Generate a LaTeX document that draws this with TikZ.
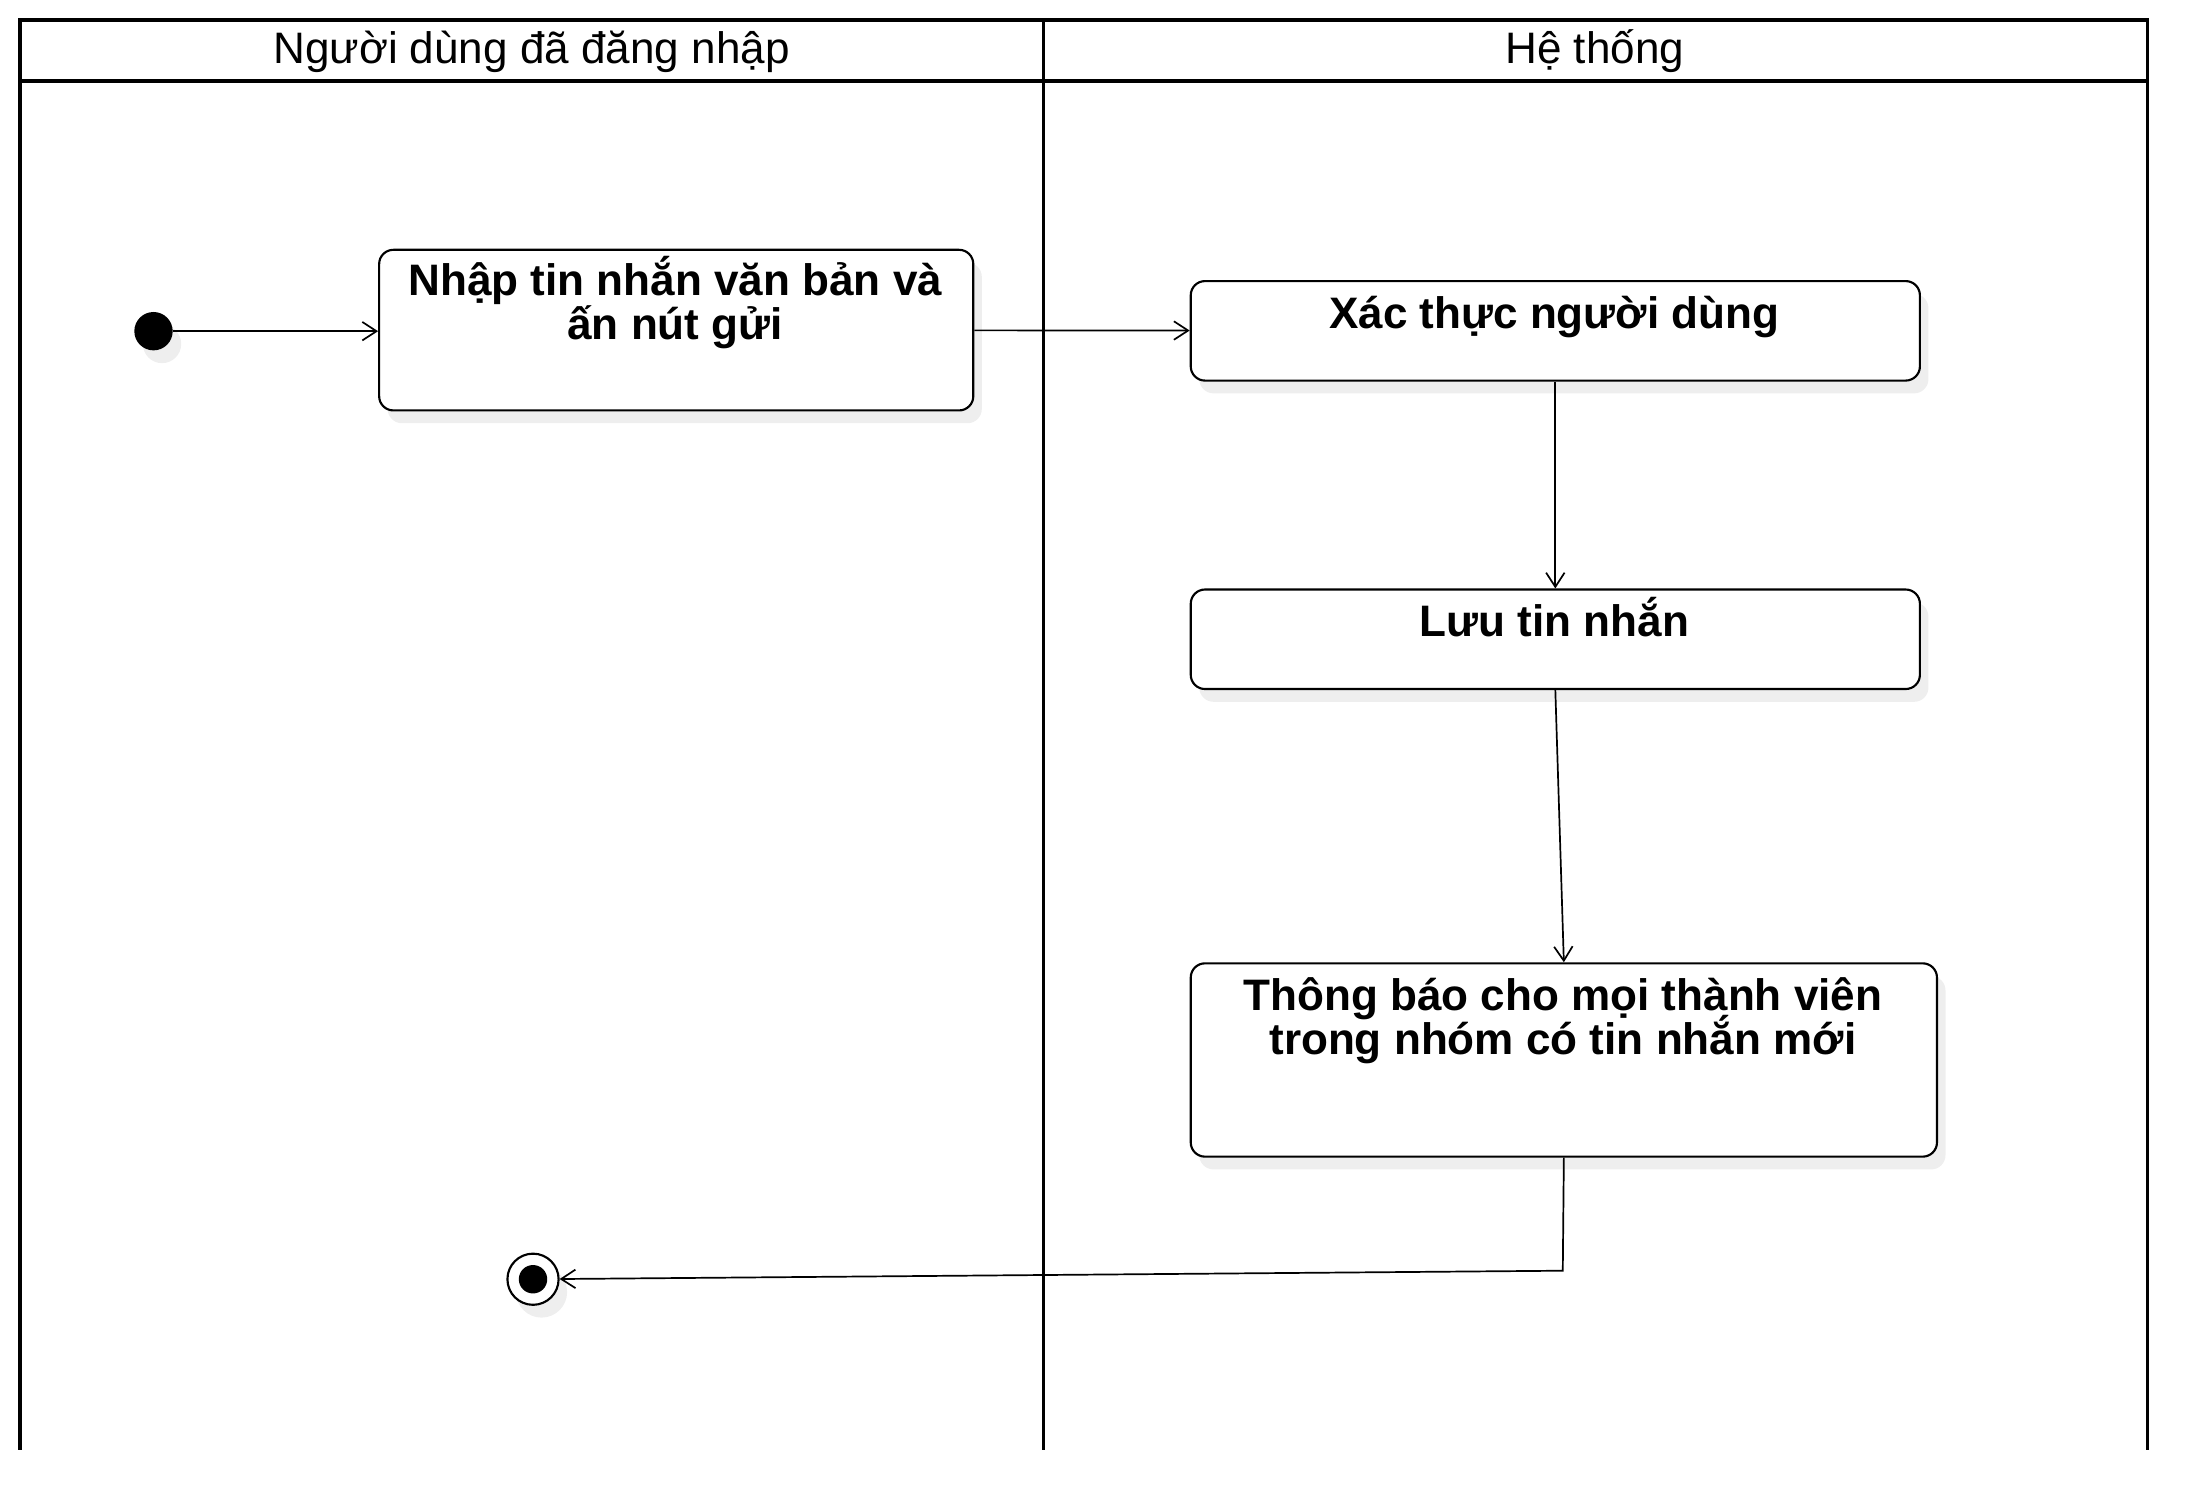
\documentclass[tikz,border=0pt]{standalone}
\usepackage{fontspec}
\setmainfont{Liberation Sans}
\usetikzlibrary{arrows.meta,shadows}
\definecolor{shadowgray}{RGB}{238,238,238}
\begin{document}
\begin{tikzpicture}[x=1pt,y=-1pt,
  lane/.style={line width=2.4pt},
  softshadow/.style={drop shadow={shadow xshift=6pt, shadow yshift=-9pt, fill=shadowgray, opacity=1}},
  act/.style={draw, line width=1.5pt, rounded corners=10pt, fill=white, inner sep=0pt, anchor=north west, softshadow},
  txt/.style={inner sep=0pt, anchor=base, font=\fontsize{31}{37}\selectfont\bfseries},
  hdr/.style={inner sep=0pt, anchor=base, font=\fontsize{31}{37}\selectfont},
  flow/.style={line width=1.2pt, -{Straight Barb[length=10pt,width=13pt,line width=1.2pt]}},
]
\useasboundingbox (0,0) rectangle (1545,1061);
% swimlanes
\draw[lane] (14,1020) -- (14,14) -- (1511,14) -- (1511,1020);
\draw[lane] (14,57) -- (1511,57);
\draw[lane] (734,14) -- (734,1020);
\node[hdr] (h1) at (374,45) {Người dùng đã đăng nhập};
\node[hdr] (h2) at (1122,45) {Hệ thống};
% activities
\node[act, minimum width=418pt, minimum height=113pt] (b1) at (266,175) {};
\node[act, minimum width=513pt, minimum height=70pt] (b2) at (837,197) {};
\node[act, minimum width=513pt, minimum height=70pt] (b3) at (837,414) {};
\node[act, minimum width=525pt, minimum height=136pt] (b4) at (837,677) {};
\node[txt] (t1a) at (475,208) {Nhập tin nhắn văn bản và};
\node[txt] (t1b) at (475,239) {ấn nút gửi};
\node[txt] (t2) at (1093.5,231) {Xác thực người dùng};
\node[txt] (t3) at (1093.5,448) {Lưu tin nhắn};
\node[txt] (t4a) at (1099.5,711) {Thông báo cho mọi thành viên};
\node[txt] (t4b) at (1099.5,742) {trong nhóm có tin nhắn mới};
% initial / final
\node[circle, fill=black, minimum size=27pt, inner sep=0pt, softshadow] (ini) at (108,233) {};
\node[circle, draw, line width=1.5pt, fill=white, minimum size=36pt, inner sep=0pt, softshadow] (fin) at (375,900) {};
\node[circle, fill=black, minimum size=20pt, inner sep=0pt] (finin) at (fin) {};
% flows
\draw[flow] (ini) -- (ini -| b1.west);
\draw[flow] (b1) -- (b2);
\draw[flow] (b2) -- (b3);
\draw[flow] (b3.south) -- (b4.north);
\coordinate (bend) at (1099.5,894);
\draw[flow] (b4.south) -- (bend) -- (fin);
\end{tikzpicture}
\end{document}
